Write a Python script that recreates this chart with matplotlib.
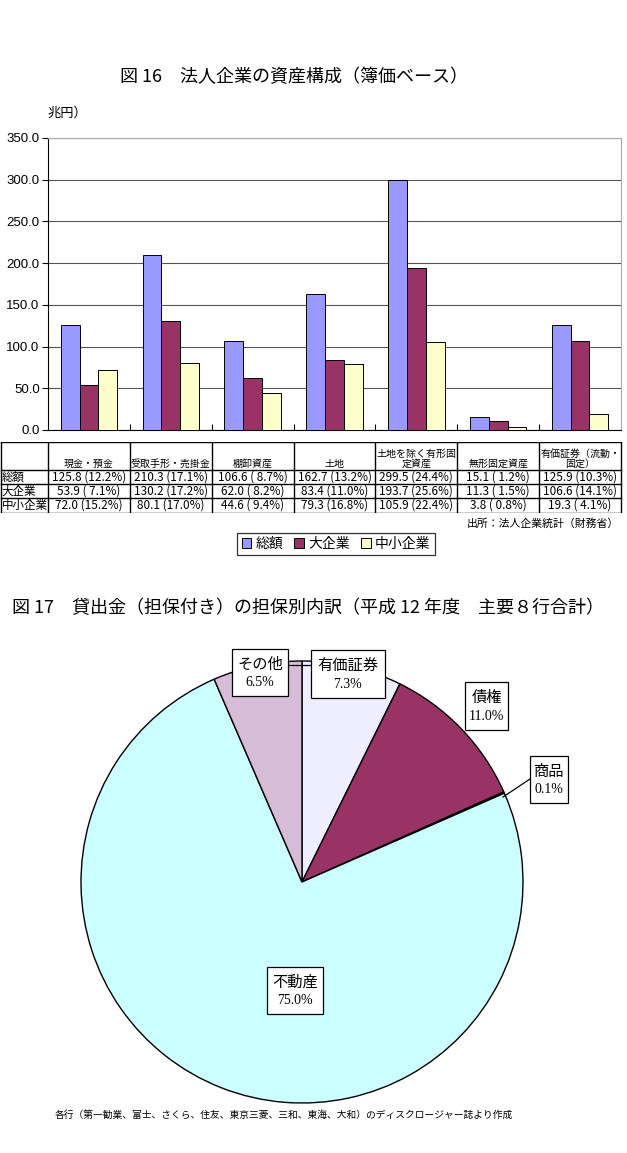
import matplotlib
matplotlib.use("Agg")
import matplotlib.pyplot as plt
from matplotlib.patches import Rectangle, Patch

plt.rcParams['font.family'] = ['Noto Sans CJK JP', 'DejaVu Sans']

# ---------------- data ----------------
categories = ["現金・預金", "受取手形・売掛金", "棚卸資産", "土地",
              "土地を除く有形固\n定資産", "無形固定資産", "有価証券（流動・\n固定）"]
series_names = ["総額", "大企業", "中小企業"]
total_vals = [125.8, 210.3, 106.6, 162.7, 299.5, 15.1, 125.9]
large_vals = [53.9, 130.2, 62.0, 83.4, 193.7, 11.3, 106.6]
small_vals = [72.0, 80.1, 44.6, 79.3, 105.9, 3.8, 19.3]
total_pcts = [12.2, 17.1, 8.7, 13.2, 24.4, 1.2, 10.3]
large_pcts = [7.1, 17.2, 8.2, 11.0, 25.6, 1.5, 14.1]
small_pcts = [15.2, 17.0, 9.4, 16.8, 22.4, 0.8, 4.1]
yticks = [0, 50, 100, 150, 200, 250, 300, 350]

pie_labels = ["有価証券", "債権", "商品", "不動産", "その他"]
pie_vals = [7.3, 11.0, 0.1, 75.0, 6.5]

bar_colors = ["#9999FF", "#993366", "#FFFFCC"]
pie_colors = ["#EEEEFF", "#993366", "#FFFFCC", "#CCFFFF", "#D6BCD6"]

W, H = 627, 1153
fig = plt.figure(figsize=(W / 100, H / 100), dpi=100)


def fx(x):
    return x / W


def fy(y):
    return 1 - y / H


# ---------------- titles ----------------
fig.text(fx(120), fy(77), "図 16　法人企業の資産構成（簿価ベース）", fontsize=13,
         va="center", ha="left")
fig.text(fx(47), fy(113), "兆円）", fontsize=9.5, va="center", ha="left")

# ---------------- bar chart ----------------
L, R, T, B = 48, 621, 138, 430
ax = fig.add_axes([fx(L), fy(B), fx(R) - fx(L), fy(T) - fy(B)])
n = len(categories)
xs = list(range(n))
bw = 0.23
for k, (vals, col) in enumerate(zip([total_vals, large_vals, small_vals], bar_colors)):
    ax.bar([x + (k - 1) * bw for x in xs], vals, width=bw, color=col,
           edgecolor="black", linewidth=0.7, zorder=3)
ax.set_xlim(-0.5, n - 0.5)
ax.set_ylim(0, 350)
ax.set_yticks(yticks)
ax.set_yticklabels([f"{v:.1f}" for v in yticks], fontfamily="Liberation Sans", fontsize=9.5)
ax.set_xticks([x + 0.5 for x in xs[:-1]])
ax.set_xticklabels([])
ax.tick_params(axis="x", direction="in", length=4, width=0.8)
ax.tick_params(axis="y", direction="out", length=4, width=0.8, pad=2)
ax.yaxis.grid(True, color="#555555", linewidth=0.8, zorder=0)
ax.set_axisbelow(True)
ax.spines["left"].set_color("black")
ax.spines["bottom"].set_color("black")
ax.spines["top"].set_color("#AAAAAA")
ax.spines["right"].set_color("#AAAAAA")

# ---------------- data table ----------------
tT, tH, r1, r2, tB = 442, 470, 484, 498, 513
tax = fig.add_axes([0, fy(tB), 1, fy(tT) - fy(tB)])
tax.set_xlim(0, W)
tax.set_ylim(tB, tT)
tax.axis("off")
cw = (R - L) / n
col_edges = [0.5] + [L + i * cw for i in range(n + 1)]
for yv in [tT, tH, r1, r2, tB]:
    tax.plot([col_edges[0], col_edges[-1]], [yv, yv], color="black", lw=1.0)
for xv in col_edges:
    tax.plot([xv, xv], [tT, tB], color="black", lw=1.0)
for i, cat in enumerate(categories):
    cx = L + (i + 0.5) * cw
    tax.text(cx, tH - 1, cat, ha="center", va="bottom", fontsize=7.2, linespacing=1.05)
rows = [(series_names[0], total_vals, total_pcts),
        (series_names[1], large_vals, large_pcts),
        (series_names[2], small_vals, small_pcts)]
row_tops = [tH, r1, r2]
for (name, vals, pcts), ytop in zip(rows, row_tops):
    yc = ytop + 7
    tax.text(1.5, yc, name, ha="left", va="center", fontsize=8.3)
    for i, (v, p) in enumerate(zip(vals, pcts)):
        cx = L + (i + 0.5) * cw
        tax.text(cx, yc, f"{v:.1f} ({p:4.1f}%)", ha="center", va="center", fontsize=8.5)

# legend
handles = [Patch(facecolor=c, edgecolor="black", linewidth=0.7) for c in bar_colors]
leg = fig.legend(handles, series_names, ncol=3, loc="center",
                 bbox_to_anchor=(fx(336), fy(544)), bbox_transform=fig.transFigure,
                 frameon=True, fancybox=False, edgecolor="black", fontsize=10,
                 handlelength=0.7, handleheight=0.7, handletextpad=0.3,
                 columnspacing=0.8, borderpad=0.3)
leg.get_frame().set_linewidth(0.9)

fig.text(fx(467), fy(524), "出所：法人企業統計（財務省）", fontsize=7.8, va="center", ha="left")

# ---------------- pie chart ----------------
fig.text(fx(12), fy(608), "図 17　貸出金（担保付き）の担保別内訳（平成 12 年度　主要８行合計）",
         fontsize=13, va="center", ha="left")

cx0, cy0, rad = 302, 882, 221
pax = fig.add_axes([fx(cx0 - rad), fy(cy0 + rad), 2 * rad / W, 2 * rad / H])
pax.pie(pie_vals, colors=pie_colors, startangle=90, counterclock=False, radius=1.0,
        wedgeprops=dict(edgecolor="black", linewidth=1.0))
pax.set_xlim(-1, 1)
pax.set_ylim(-1, 1)
pax.set_aspect("equal")
pax.axis("off")

# overlay axes in pixel coordinates for label boxes
oax = fig.add_axes([0, 0, 1, 1], facecolor="none")
oax.set_xlim(0, W)
oax.set_ylim(H, 0)
oax.axis("off")
boxes = {
    "その他": (232, 649, 288, 696),
    "有価証券": (311, 650, 385, 698),
    "債権": (465, 682, 508, 730),
    "商品": (530, 756, 568, 803),
    "不動産": (267, 967, 323, 1014),
}
# leader lines
oax.plot([288, 311], [665, 665], color="black", lw=0.9)
oax.plot([530, 503], [779, 797], color="black", lw=0.9)
for name, val in zip(pie_labels, pie_vals):
    x0, y0, x1, y1 = boxes[name]
    oax.add_patch(Rectangle((x0, y0), x1 - x0, y1 - y0, facecolor="white",
                            edgecolor="black", lw=0.9, zorder=4))
    xm = (x0 + x1) / 2
    oax.text(xm, y0 + (y1 - y0) * 0.32, name, ha="center", va="center",
             fontsize=11, zorder=5)
    oax.text(xm, y0 + (y1 - y0) * 0.72, f"{val:.1f}%", ha="center", va="center",
             fontsize=10, fontfamily="Liberation Serif", zorder=5)

fig.text(fx(55), fy(1115),
         "各行（第一勧業、富士、さくら、住友、東京三菱、三和、東海、大和）のディスクロージャー誌より作成",
         fontsize=7, va="center", ha="left")

fig.savefig("out.png", dpi=100)
